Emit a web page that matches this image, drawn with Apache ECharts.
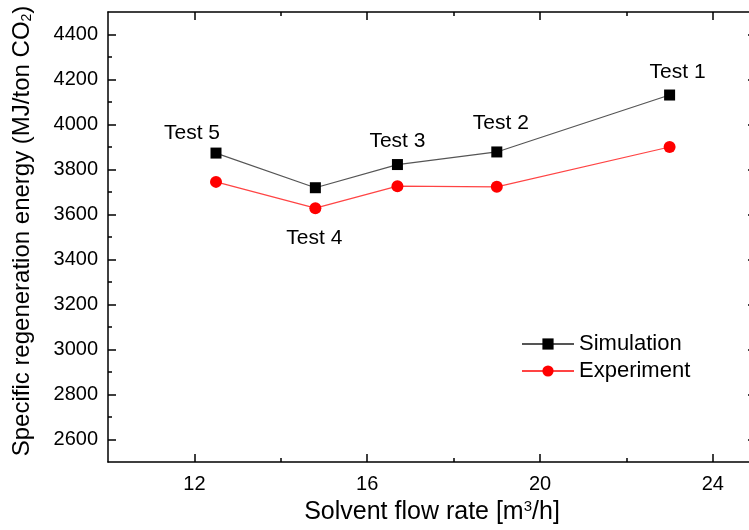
<!DOCTYPE html>
<html lang="en">
<head>
<meta charset="UTF-8">
<title>Specific regeneration energy</title>
<script src="https://cdn.jsdelivr.net/npm/echarts@6/dist/echarts.min.js"></script>
<style>
  html, body { margin: 0; padding: 0; background: #fff; }
  #main { width: 749px; height: 530px; }
</style>
</head>
<body>
<div id="main"></div>
<script>
// values
const flowRate = [12.5, 14.8, 16.7, 19.0, 23.0];
const simEnergy = [3873, 3719, 3822, 3878, 4131];
const expEnergy = [3745, 3628, 3726, 3723, 3900];
const testNames = ['Test 5', 'Test 4', 'Test 3', 'Test 2', 'Test 1'];

const xMajor = [12, 16, 20, 24];
const xMinor = [14, 18, 22];
const yMajor = [2600, 2800, 3000, 3200, 3400, 3600, 3800, 4000, 4200, 4400];
const yMinor = [2700, 2900, 3100, 3300, 3500, 3700, 3900, 4100, 4300];

// label offsets (px) from each simulation point
const labelShift = [[-24, -20], [-1, 50], [0, -23], [4, -29], [8, -23]];

const font = '"Liberation Sans", Arial, sans-serif';
const black = '#000';

function tickAxis(pos, min, max, ticks, len, lineShow) {
  return {
    type: 'value', position: pos, min: min, max: max,
    axisLine: { show: lineShow, onZero: false, lineStyle: { color: black, width: 1.5 } },
    axisTick: { show: true, inside: true, length: len, customValues: ticks, lineStyle: { color: black, width: 1.5 } },
    axisLabel: { show: false },
    splitLine: { show: false }
  };
}

let chartDom = document.getElementById('main');
let myChart = echarts.init(chartDom);

let xMain = tickAxis('bottom', 10, 25, xMajor, 8, true);
xMain.axisLabel = { show: true, customValues: xMajor, fontSize: 20, color: black, margin: 12, fontFamily: font };
xMain.name = 'Solvent flow rate [m{sup|3}/h]';
xMain.nameLocation = 'middle';
xMain.nameGap = 37;
xMain.nameTextStyle = {
  fontSize: 25, color: black, fontFamily: font,
  rich: { sup: { fontSize: 15, verticalAlign: 'top', padding: [0, 0, 12, 0], color: black, fontFamily: font } }
};

let yMain = tickAxis('left', 2500, 4500, yMajor, 8, true);
yMain.axisLabel = {
  show: true, customValues: yMajor, fontSize: 20, color: black, margin: 10, fontFamily: font,
  formatter: v => String(v)
};
yMain.name = 'Specific regeneration energy (MJ/ton CO{sub|2})';
yMain.nameLocation = 'middle';
yMain.nameGap = 74;
yMain.nameTextStyle = {
  fontSize: 24, color: black, fontFamily: font, padding: [0, 0, 0, 12],
  rich: { sub: { fontSize: 14, verticalAlign: 'bottom', padding: [10, 0, 0, 0], color: black, fontFamily: font } }
};

let option = {
  animation: false,
  backgroundColor: '#fff',
  textStyle: { fontFamily: font },
  grid: { left: 108, width: 648, top: 12, bottom: 68, containLabel: false, outerBoundsMode: 'none' },
  legend: {
    data: ['Simulation', 'Experiment'],
    orient: 'vertical',
    left: 516, top: 328,
    itemWidth: 52, itemHeight: 14, itemGap: 5,
    textStyle: { fontSize: 22, color: black, fontFamily: font }
  },
  xAxis: [
    xMain,
    tickAxis('bottom', 10, 25, xMinor, 4, false),
    tickAxis('top', 10, 25, xMajor, 8, true),
    tickAxis('top', 10, 25, xMinor, 4, false)
  ],
  yAxis: [
    yMain,
    tickAxis('left', 2500, 4500, yMinor, 4, false),
    tickAxis('right', 2500, 4500, yMajor, 8, true),
    tickAxis('right', 2500, 4500, yMinor, 4, false)
  ],
  series: [
    {
      name: 'Simulation', type: 'line',
      symbol: 'rect', symbolSize: 11,
      itemStyle: { color: black },
      lineStyle: { color: '#555', width: 1.2 },
      data: flowRate.map((x, i) => ({
        value: [x, simEnergy[i]],
        label: {
          show: true, formatter: testNames[i], position: 'inside',
          offset: labelShift[i], fontSize: 21, color: black, fontFamily: font
        }
      })),
      z: 3
    },
    {
      name: 'Experiment', type: 'line',
      symbol: 'circle', symbolSize: 12,
      itemStyle: { color: '#ff0000' },
      lineStyle: { color: '#ff4444', width: 1.2 },
      data: flowRate.map((x, i) => [x, expEnergy[i]]),
      z: 2
    }
  ]
};

option && myChart.setOption(option);
</script>
</body>
</html>
